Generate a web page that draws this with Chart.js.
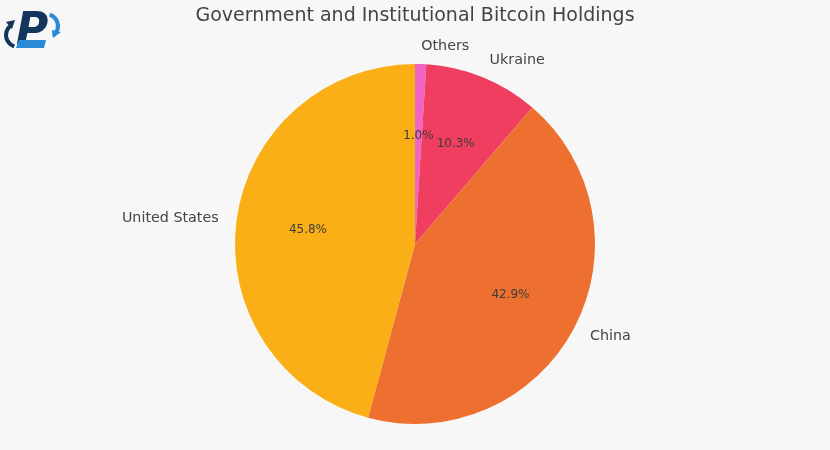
<!DOCTYPE html>
<html>
<head>
<meta charset="utf-8">
<script src="https://cdn.jsdelivr.net/npm/chart.js@4.4.1/dist/chart.umd.min.js"></script>
<style>
    html, body { margin: 0; padding: 0; background: #f7f7f7; }
    #wrap { width: 830px; height: 450px; position: relative; }
</style>
</head>
<body>
<div id="wrap"><canvas id="pieChart" width="830" height="450"></canvas></div>
<script>
// slices listed clockwise from 12 o'clock
const categories = ["Others", "Ukraine", "China", "United States"];
const shares = [1.0, 10.3, 42.9, 45.8];
const sliceColors = ["#f065c4", "#f03e60", "#ee7030", "#f9af15"];
const chartTitle = "Government and Institutional Bitcoin Holdings";

const FONT = "'DejaVu Sans', sans-serif";

// draws title, outside labels, percentages and the little logo
const annotatePlugin = {
    id: 'annotate',
    afterDatasetsDraw(chart) {
        const ctx = chart.ctx;
        const meta = chart.getDatasetMeta(0);
        ctx.save();

        ctx.fillStyle = '#444444';
        ctx.font = '19px ' + FONT;
        ctx.textAlign = 'center';
        ctx.textBaseline = 'middle';
        ctx.fillText(chartTitle, 415, 16);

        meta.data.forEach((arc, i) => {
            const mid = (arc.startAngle + arc.endAngle) / 2;
            const r = arc.outerRadius;
            const cos = Math.cos(mid), sin = Math.sin(mid);

            // category label at 1.1 radius
            ctx.font = '14.3px ' + FONT;
            ctx.fillStyle = '#444444';
            ctx.textAlign = cos >= 0 ? 'left' : 'right';
            ctx.textBaseline = 'middle';
            ctx.fillText(categories[i], arc.x + cos * r * 1.1, arc.y + sin * r * 1.1);

            // percentage at 0.6 radius
            ctx.font = '12px ' + FONT;
            ctx.fillStyle = '#3d3d3d';
            ctx.textAlign = 'center';
            ctx.fillText(shares[i].toFixed(1) + '%', arc.x + cos * r * 0.6, arc.y + sin * r * 0.6);
        });

        drawLogo(ctx);
        ctx.restore();
    }
};

function drawLogo(ctx) {
    ctx.save();
    // left arrow (navy)
    ctx.strokeStyle = '#14355c';
    ctx.lineWidth = 4;
    ctx.beginPath();
    ctx.arc(18, 35, 12, Math.PI * 0.6, Math.PI * 1.3);
    ctx.stroke();
    ctx.fillStyle = '#14355c';
    ctx.beginPath();
    ctx.moveTo(6, 22); ctx.lineTo(15, 20); ctx.lineTo(12, 29);
    ctx.closePath(); ctx.fill();
    // right arrow (blue)
    ctx.strokeStyle = '#2b8ad6';
    ctx.beginPath();
    ctx.arc(46, 26, 12, -Math.PI * 0.4, Math.PI * 0.3);
    ctx.stroke();
    ctx.fillStyle = '#2b8ad6';
    ctx.beginPath();
    ctx.moveTo(61, 32); ctx.lineTo(53, 38); ctx.lineTo(52, 30);
    ctx.closePath(); ctx.fill();
    // the P
    ctx.font = 'italic bold 44px ' + FONT;
    ctx.textAlign = 'center';
    ctx.textBaseline = 'alphabetic';
    ctx.fillStyle = '#14355c';
    ctx.fillText('P', 32, 44);
    ctx.fillStyle = '#2b8ad6';
    ctx.beginPath();
    ctx.moveTo(19, 40); ctx.lineTo(46, 40); ctx.lineTo(44, 48); ctx.lineTo(16, 48);
    ctx.closePath(); ctx.fill();
    ctx.restore();
}

const ctxPie = document.getElementById('pieChart').getContext('2d');
const pieChart = new Chart(ctxPie, {
    type: 'pie',
    data: {
        labels: categories,
        datasets: [{
            data: shares,
            backgroundColor: sliceColors,
            borderWidth: 0
        }]
    },
    options: {
        responsive: false,
        animation: false,
        layout: { padding: { top: 64, bottom: 26, left: 0, right: 0 } },
        plugins: {
            legend: { display: false },
            tooltip: { enabled: false }
        }
    },
    plugins: [annotatePlugin]
});
</script>
</body>
</html>
